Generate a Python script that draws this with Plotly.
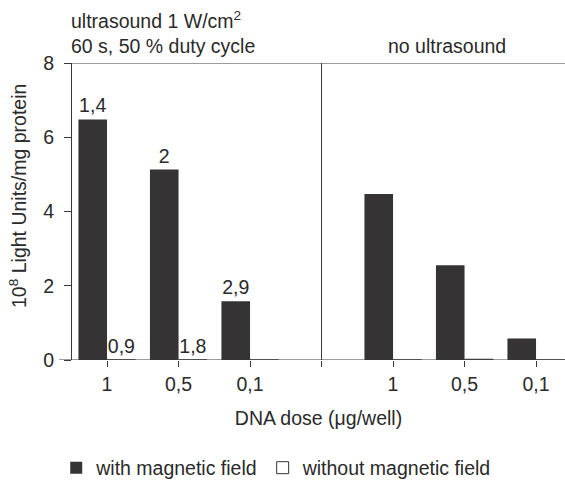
import plotly.graph_objects as go

# ---- data ----
doses = ["1", "0,5", "0,1"]
panels = ["ultrasound", "no ultrasound"]
with_field_us = [6.48, 5.13, 1.58]
without_field_us = [0.0, 0.0, 0.0]
with_field_nous = [4.47, 2.55, 0.58]
without_field_nous = [0.0, 0.02, 0.0]
with_labels_us = ["1,4", "2", "2,9"]
without_labels_us = ["0,9", "1,8", ""]
y_ticks = [0, 2, 4, 6, 8]

# x positions: left panel 0..2, separator at 3, right panel 4..6
x_left = [0, 1, 2]
x_right = [4, 5, 6]
x_sep = 3
xs = x_left + x_right
tick_vals = x_left + [x_sep] + x_right
tick_text = doses + [""] + doses

FONT = "Liberation Sans, Arial, Helvetica, sans-serif"
DARK = "#353334"
AXIS = "#3a3a3a"
TXT = "#2a2a2a"
FS = 19.5

fig = go.Figure()
fig.add_trace(go.Bar(
    x=xs, y=with_field_us + with_field_nous,
    name="with magnetic field",
    marker=dict(color=DARK, line=dict(color=DARK, width=0)),
    text=with_labels_us + ["", "", ""],
    textposition="outside", cliponaxis=False,
    textfont=dict(size=FS, color=TXT, family=FONT),
))
fig.add_trace(go.Bar(
    x=xs, y=without_field_us + without_field_nous,
    name="without magnetic field",
    marker=dict(color="white", line=dict(color=DARK, width=1)),
    text=without_labels_us + ["", "", ""],
    textposition="outside", cliponaxis=False,
    textfont=dict(size=FS, color=TXT, family=FONT),
))

# panel separator
fig.add_shape(type="line", xref="x", yref="y", x0=x_sep, x1=x_sep, y0=0, y1=8,
              line=dict(color=AXIS, width=1))
# top border with short left extension
fig.add_shape(type="line", xref="x domain", yref="y", x0=-0.016, x1=1, y0=8, y1=8,
              line=dict(color=AXIS, width=1))
# bottom axis line with left extension
fig.add_shape(type="line", xref="x domain", yref="y", x0=-0.026, x1=1, y0=0, y1=0,
              line=dict(color=AXIS, width=1))

fig.add_annotation(text="ultrasound 1 W/cm<sup>2</sup>", xref="paper", yref="paper",
                   x=0, xshift=-3, y=1 + (63 - 20) / 297, xanchor="left", yanchor="middle",
                   showarrow=False, font=dict(size=FS, color=TXT, family=FONT))
fig.add_annotation(text="60 s, 50 % duty cycle", xref="paper", yref="paper",
                   x=0, xshift=-3, y=1 + (63 - 46) / 297, xanchor="left", yanchor="middle",
                   showarrow=False, font=dict(size=FS, color=TXT, family=FONT))
fig.add_annotation(text="no ultrasound", xref="paper", yref="paper",
                   x=(447 - 72) / 493, y=1 + (63 - 46) / 297, xanchor="center", yanchor="middle",
                   showarrow=False, font=dict(size=FS, color=TXT, family=FONT))
fig.add_annotation(text="10<sup>8</sup> Light Units/mg protein", xref="paper", yref="paper",
                   x=(18 - 72) / 493, y=(360 - 196) / 297, xanchor="center", yanchor="middle",
                   textangle=-90, showarrow=False, font=dict(size=FS, color=TXT, family=FONT))

fig.update_layout(
    width=565, height=480,
    margin=dict(l=72, r=0, t=63, b=120, autoexpand=False),
    paper_bgcolor="white", plot_bgcolor="white",
    font=dict(family=FONT, size=FS, color=TXT),
    barmode="group", bargap=0.2, bargroupgap=0,
    showlegend=True,
    legend=dict(orientation="h", x=-0.032, xanchor="left", y=(360 - 468) / 297, yanchor="middle",
                font=dict(size=FS, color=TXT, family=FONT), bgcolor="rgba(0,0,0,0)",
                itemclick=False),
)
fig.update_xaxes(
    range=[-0.49, 6.405], tickmode="array", tickvals=tick_vals, ticktext=tick_text,
    ticks="outside", ticklen=6, tickcolor=AXIS, showline=False, showgrid=False,
    zeroline=False, tickfont=dict(size=FS, color=TXT, family=FONT),
    ticklabelstandoff=1, automargin=False,
    title=dict(text="DNA dose (μg/well)", standoff=16, font=dict(size=FS, color=TXT, family=FONT)),
)
fig.update_yaxes(
    range=[0, 8], tickmode="array", tickvals=y_ticks,
    ticks="outside", ticklen=7, tickcolor=AXIS, showline=True, linecolor=AXIS, linewidth=1,
    showgrid=False, zeroline=False, tickfont=dict(size=FS, color=TXT, family=FONT),
    ticklabelstandoff=6, automargin=False,
)

fig.write_html("out.html")
